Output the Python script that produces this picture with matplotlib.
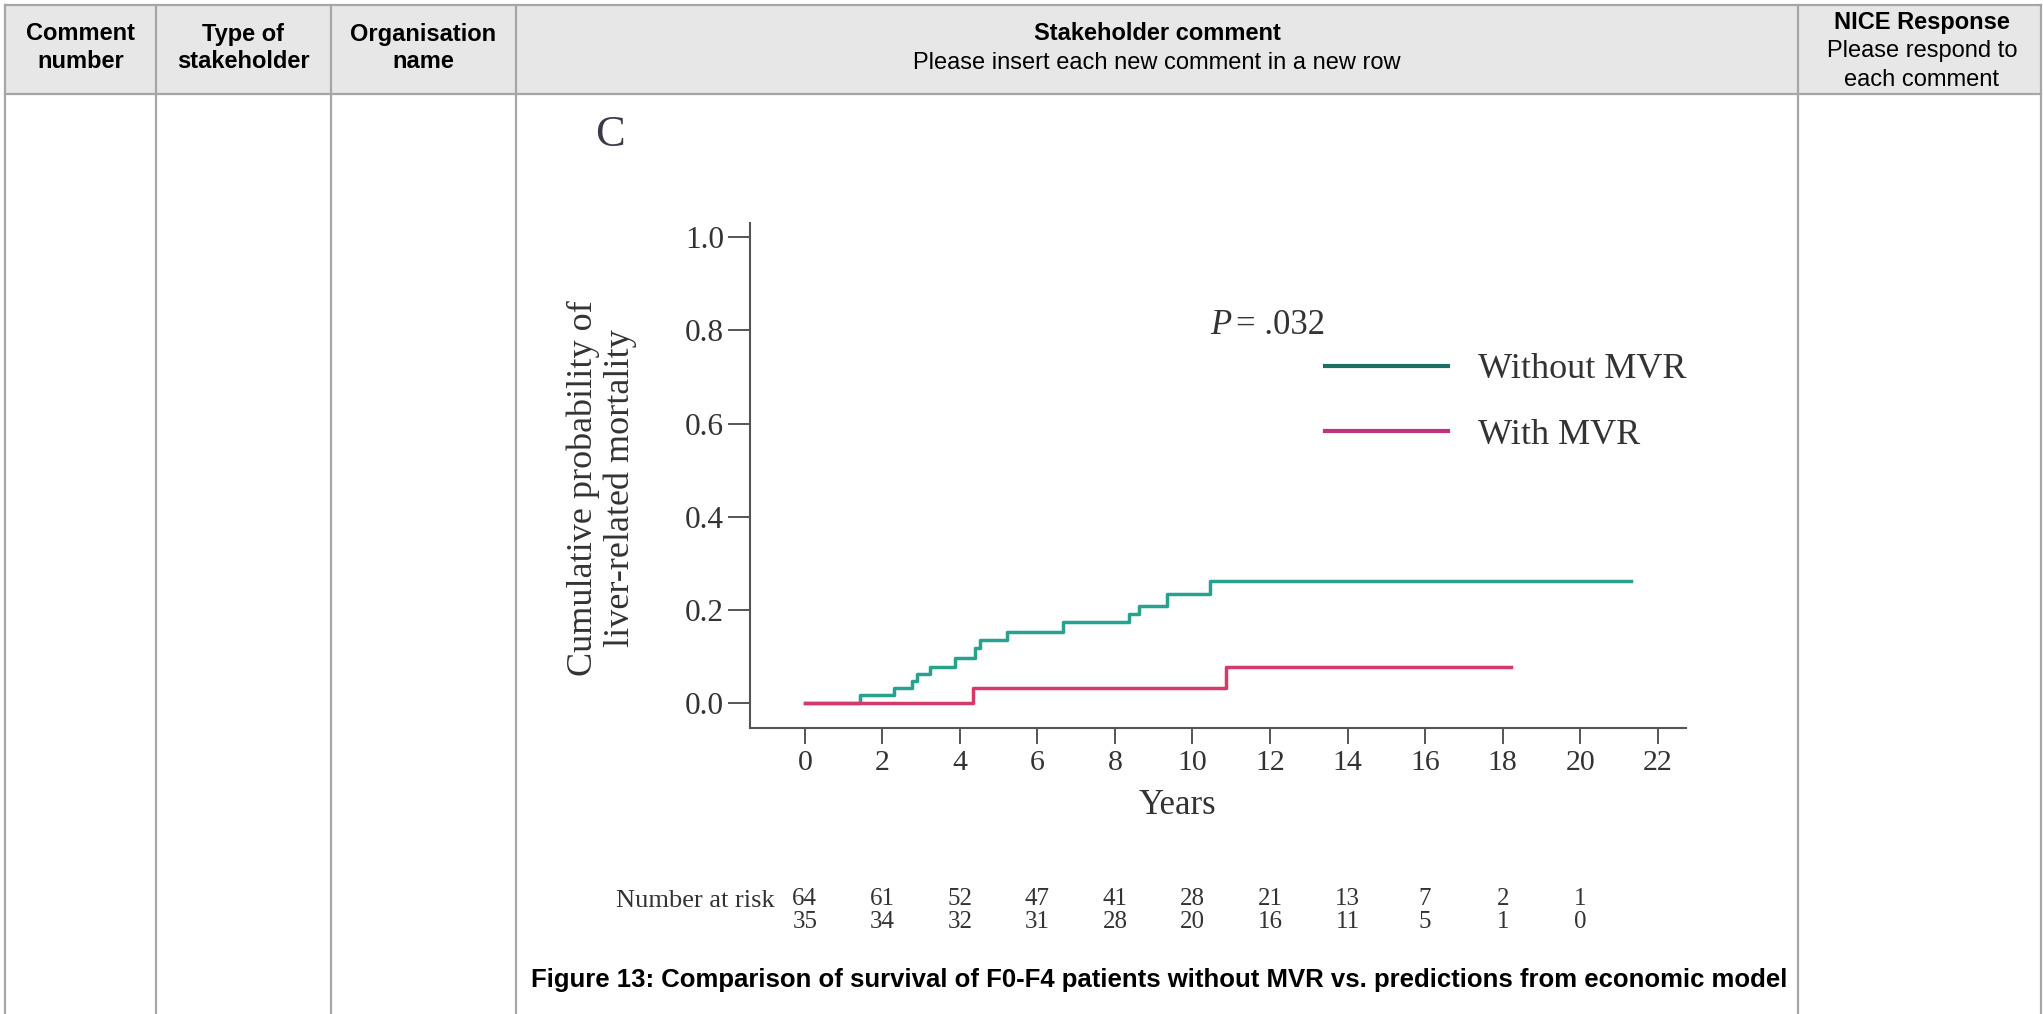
import matplotlib
matplotlib.use("Agg")
import matplotlib.pyplot as plt
from matplotlib.lines import Line2D
from matplotlib.patches import Rectangle
from matplotlib.transforms import blended_transform_factory

W, H = 2043, 1014

# table header
col_edges = [5, 156, 331, 516, 1798, 2041]
head_top, head_bot = 5, 94
head_bold = ["Comment\nnumber", "Type of\nstakeholder", "Organisation\nname",
             "Stakeholder comment", "NICE Response"]
head_sub = ["", "", "", "Please insert each new comment in a new row",
            "Please respond to\neach comment"]

# Kaplan-Meier curves
t_without = [0, 1.43, 2.29, 2.76, 2.89, 3.23, 3.87, 4.39, 4.52, 5.21, 6.65,
             8.37, 8.63, 9.34, 10.45, 21.31]
p_without = [0, 0.017, 0.032, 0.048, 0.062, 0.077, 0.097, 0.118, 0.136,
             0.153, 0.174, 0.191, 0.209, 0.234, 0.263, 0.263]
t_with = [0, 4.35, 10.87, 18.21]
p_with = [0, 0.033, 0.078, 0.078]

risk_years = [0, 2, 4, 6, 8, 10, 12, 14, 16, 18, 20]
risk_without = [64, 61, 52, 47, 41, 28, 21, 13, 7, 2, 1]
risk_with = [35, 34, 32, 31, 28, 20, 16, 11, 5, 1, 0]

teal = "#26a28e"
pink = "#d33a6a"
ink = "#333333"
grid = "#a6a6a6"
serif = "Liberation Serif"
sans = "Liberation Sans"

fig = plt.figure(figsize=(W / 100, H / 100), dpi=100)
fig.patch.set_facecolor("white")

# background axes in pixel coords for the table
bg = fig.add_axes([0, 0, 1, 1])
bg.set_xlim(0, W)
bg.set_ylim(H, 0)
bg.axis("off")

bg.add_patch(Rectangle((col_edges[0], head_top), col_edges[-1] - col_edges[0],
                       head_bot - head_top, facecolor="#e7e7e7", edgecolor="none"))
for x in col_edges:
    bg.plot([x, x], [head_top, H], color=grid, lw=1.6)
for y in [head_top, head_bot]:
    bg.plot([col_edges[0], col_edges[-1]], [y, y], color=grid, lw=1.6)

for i in range(5):
    cx = (col_edges[i] + col_edges[i + 1]) / 2
    if i < 3:
        lines = head_bold[i].split("\n")
        bg.text(cx, 34, lines[0], ha="center", va="center", fontsize=17,
                fontweight="bold", family=sans)
        bg.text(cx, 62, lines[1], ha="center", va="center", fontsize=17,
                fontweight="bold", family=sans)
    elif i == 3:
        bg.text(cx, 34, head_bold[i], ha="center", va="center", fontsize=17,
                fontweight="bold", family=sans)
        bg.text(cx, 63, head_sub[i], ha="center", va="center", fontsize=17,
                family=sans)
    else:
        cx = 1922
        bg.text(cx, 22, head_bold[i], ha="center", va="center", fontsize=17,
                fontweight="bold", family=sans)
        sub = head_sub[i].split("\n")
        bg.text(cx, 51, sub[0], ha="center", va="center", fontsize=17, family=sans)
        bg.text(cx, 80, sub[1], ha="center", va="center", fontsize=17, family=sans)

# the KM plot
ax = fig.add_axes([750 / W, 1 - 728 / H, 936 / W, 505 / H])
ax.set_facecolor("none")
ax.step(t_without, p_without, where="post", color=teal, lw=2.5)
ax.step(t_with, p_with, where="post", color=pink, lw=2.5)
ax.set_xlim(-1.414, 22.73)
ax.set_ylim(-0.053, 1.030)
for s in ["top", "right"]:
    ax.spines[s].set_visible(False)
for s in ["left", "bottom"]:
    ax.spines[s].set_color("#555555")
    ax.spines[s].set_linewidth(1.5)
ax.set_xticks(risk_years + [22])
ax.set_yticks([0, 0.2, 0.4, 0.6, 0.8, 1.0])
ax.set_yticklabels(["0.0", "0.2", "0.4", "0.6", "0.8", "1.0"])
ax.tick_params(axis="y", direction="out", length=15.8, width=1.4, pad=3,
               color="#555555", labelcolor=ink, labelsize=22.5)
ax.tick_params(axis="x", direction="out", length=11.5, width=1.4, pad=4,
               color="#555555", labelcolor=ink, labelsize=21.5)
for lab in ax.get_xticklabels() + ax.get_yticklabels():
    lab.set_family(serif)

bg.text(602, 488, "Cumulative probability of\nliver-related mortality", rotation=90,
        ha="center", va="center", fontsize=26, family=serif, color=ink,
        linespacing=1.12, multialignment="center")
bg.text(1177, 806, "Years", ha="center", va="center", fontsize=25,
        family=serif, color=ink)
bg.text(610, 135, "C", ha="center", va="center", fontsize=32, family=serif,
        color="#3a3a48")
bg.text(1210, 326, "P", ha="left", va="center", fontsize=25, family=serif,
        style="italic", color=ink)
bg.text(1236, 326, "= .032", ha="left", va="center", fontsize=25, family=serif,
        color=ink)

handles = [Line2D([], [], color="#1d6f66", lw=3),
           Line2D([], [], color="#c0357a", lw=3)]
leg = ax.legend(handles, ["Without MVR", "With MVR"], loc="upper left",
                bbox_to_anchor=(1325 / W, 1 - 353 / H), bbox_transform=fig.transFigure,
                frameon=False, borderpad=0, borderaxespad=0, handlelength=3.4,
                handletextpad=0.83, labelspacing=0.9,
                prop={"family": serif, "size": 26})
for t in leg.get_texts():
    t.set_color(ink)

# number at risk
tr = blended_transform_factory(ax.transData, bg.transData)
bg.text(775, 901, "Number at risk", ha="right", va="center", fontsize=19,
        family=serif, color=ink)
for x, a, b in zip(risk_years, risk_without, risk_with):
    ax.text(x, 899, str(a), transform=tr, ha="center", va="center", fontsize=18,
            family=serif, color=ink, clip_on=False)
    ax.text(x, 922, str(b), transform=tr, ha="center", va="center", fontsize=18,
            family=serif, color=ink, clip_on=False)

bg.text(531, 980, "Figure 13: Comparison of survival of F0-F4 patients without MVR "
        "vs. predictions from economic model", ha="left", va="center", fontsize=18.5,
        fontweight="bold", family=sans)

fig.savefig("out.png", dpi=100)
